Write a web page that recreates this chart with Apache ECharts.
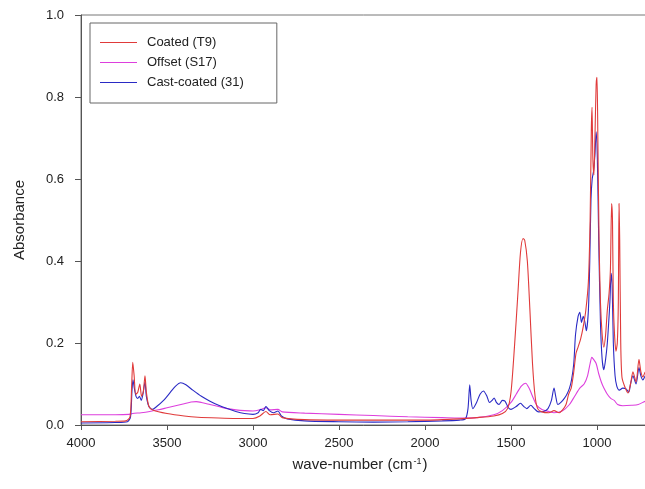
<!DOCTYPE html>
<html>
<head>
<meta charset="utf-8">
<script src="https://cdn.jsdelivr.net/npm/echarts@6/dist/echarts.min.js"></script>
<style>
html,body{margin:0;padding:0;background:#fff;}
#chart{width:645px;height:489px;}
</style>
</head>
<body>
<div id="chart"></div>
<script>
// ---- data (wave-number cm^-1, absorbance) ----
var seriesNames = ['Coated (T9)', 'Offset (S17)', 'Cast-coated (31)'];
var xTicks = [4000, 3500, 3000, 2500, 2000, 1500, 1000];
var yTicks = [0.0, 0.2, 0.4, 0.6, 0.8, 1.0];

var coatedT9 = [
[4000,0.008],[3800,0.009],[3740,0.010],[3715,0.020],[3706,0.090],[3699,0.153],[3691,0.120],[3682,0.075],[3670,0.080],[3658,0.100],
[3648,0.070],[3638,0.080],[3628,0.120],[3620,0.080],[3605,0.045],[3580,0.036],[3500,0.028],[3400,0.022],[3320,0.019],[3200,0.017],
[3100,0.016],[3000,0.016],[2960,0.022],[2925,0.033],[2900,0.025],[2855,0.027],[2830,0.018],[2700,0.013],[2500,0.012],[2200,0.012],
[2000,0.012],[1800,0.015],[1700,0.018],[1600,0.022],[1550,0.028],[1520,0.040],[1500,0.080],[1480,0.190],[1460,0.320],[1445,0.420],
[1430,0.455],[1420,0.450],[1405,0.400],[1390,0.280],[1375,0.150],[1360,0.070],[1345,0.040],[1320,0.032],[1280,0.030],[1250,0.035],
[1220,0.030],[1200,0.037],[1180,0.050],[1165,0.075],[1150,0.090],[1135,0.130],[1122,0.175],[1110,0.190],[1095,0.210],[1080,0.240],
[1065,0.280],[1050,0.350],[1040,0.500],[1033,0.720],[1029,0.775],[1024,0.650],[1018,0.610],[1012,0.700],[1005,0.830],[1000,0.848],
[995,0.700],[988,0.450],[980,0.300],[970,0.220],[960,0.190],[950,0.220],[940,0.280],[930,0.320],[922,0.380],[915,0.540],
[910,0.500],[905,0.300],[898,0.220],[890,0.180],[882,0.200],[876,0.300],[872,0.540],[868,0.450],[862,0.200],[855,0.117],
[840,0.095],[820,0.078],[805,0.100],[791,0.130],[773,0.105],[756,0.160],[745,0.130],[733,0.117],[718,0.130],[700,0.120]
];

var offsetS17 = [
[4000,0.025],[3800,0.025],[3720,0.026],[3700,0.028],[3650,0.030],[3600,0.033],[3550,0.037],[3500,0.042],[3450,0.047],[3400,0.052],
[3360,0.056],[3330,0.057],[3300,0.055],[3250,0.050],[3200,0.045],[3150,0.040],[3100,0.037],[3050,0.035],[3000,0.034],[2960,0.037],
[2925,0.042],[2900,0.037],[2855,0.038],[2830,0.032],[2700,0.029],[2500,0.026],[2300,0.023],[2100,0.020],[1900,0.018],[1800,0.017],
[1700,0.018],[1600,0.025],[1550,0.035],[1500,0.055],[1470,0.075],[1440,0.095],[1415,0.102],[1395,0.090],[1370,0.065],[1350,0.048],
[1320,0.038],[1280,0.033],[1250,0.030],[1200,0.035],[1160,0.050],[1130,0.070],[1100,0.090],[1075,0.100],[1055,0.120],[1040,0.150],
[1030,0.165],[1020,0.160],[1005,0.150],[990,0.125],[975,0.105],[960,0.090],[940,0.075],[920,0.065],[900,0.060],[880,0.050],
[850,0.047],[800,0.048],[760,0.050],[720,0.058],[700,0.060]
];

var castCoated31 = [
[4000,0.005],[3800,0.006],[3730,0.008],[3712,0.020],[3704,0.080],[3698,0.110],[3690,0.090],[3680,0.070],[3670,0.065],[3660,0.070],
[3650,0.060],[3640,0.075],[3628,0.105],[3620,0.070],[3605,0.045],[3585,0.038],[3560,0.045],[3520,0.060],[3480,0.080],[3450,0.095],
[3420,0.103],[3390,0.098],[3350,0.085],[3300,0.070],[3250,0.058],[3200,0.048],[3150,0.040],[3100,0.033],[3050,0.028],[3000,0.026],
[2970,0.030],[2955,0.038],[2940,0.035],[2925,0.045],[2905,0.035],[2880,0.030],[2855,0.034],[2835,0.022],[2800,0.015],[2700,0.010],
[2500,0.008],[2300,0.007],[2100,0.008],[1900,0.010],[1800,0.012],[1765,0.015],[1750,0.040],[1740,0.098],[1732,0.060],[1722,0.040],
[1700,0.055],[1680,0.075],[1660,0.083],[1640,0.070],[1625,0.055],[1610,0.060],[1598,0.066],[1585,0.055],[1570,0.050],[1550,0.060],
[1535,0.058],[1515,0.042],[1500,0.038],[1470,0.045],[1445,0.053],[1425,0.045],[1408,0.040],[1385,0.048],[1365,0.040],[1340,0.032],
[1310,0.033],[1285,0.040],[1265,0.060],[1250,0.090],[1240,0.070],[1228,0.050],[1210,0.055],[1190,0.065],[1175,0.075],[1160,0.090],
[1148,0.110],[1135,0.150],[1125,0.220],[1110,0.265],[1100,0.275],[1090,0.250],[1080,0.265],[1070,0.250],[1062,0.230],[1050,0.280],
[1042,0.400],[1035,0.550],[1028,0.600],[1020,0.620],[1012,0.660],[1005,0.715],[998,0.650],[990,0.450],[980,0.250],[970,0.160],
[960,0.135],[950,0.160],[940,0.200],[932,0.250],[925,0.300],[918,0.370],[912,0.340],[905,0.200],[895,0.120],[885,0.095],
[870,0.085],[850,0.090],[831,0.088],[815,0.080],[805,0.100],[791,0.120],[773,0.100],[756,0.140],[745,0.120],[733,0.110],
[718,0.120],[700,0.110]
];

var colors = ['#e03a3a', '#dd3fdd', '#2a2ac4'];

var chart = echarts.init(document.getElementById('chart'), null, {renderer: 'canvas'});
var font = '"Liberation Sans", Arial, sans-serif';
var dataSets = [coatedT9, offsetS17, castCoated31];
var lineIcon = 'path://M0,0 L37,0 L37,1.2 L0,1.2 Z';

chart.setOption({
  animation: false,
  backgroundColor: '#fff',
  grid: {
    left: 81, top: 15, bottom: 64, right: -38,
    outerBoundsMode: 'none',
    containLabel: false,
    show: true, borderColor: '#777', borderWidth: 1, backgroundColor: 'transparent'
  },
  legend: {
    orient: 'vertical',
    left: 90, top: 23,
    padding: [13, 33, 14, 10],
    borderColor: '#666', borderWidth: 1,
    itemWidth: 37, itemHeight: 14, itemGap: 7,
    textStyle: {fontFamily: font, fontSize: 13, color: '#222', padding: [0, 0, 0, 5]},
    data: seriesNames.map(function (n) { return {name: n, icon: lineIcon}; })
  },
  xAxis: {
    type: 'value',
    inverse: true,
    min: 500, max: 4000, interval: 500,
    name: '{a|wave-number (cm}{s|-1}{a|)}',
    nameLocation: 'middle',
    nameGap: 32,
    nameTextStyle: {
      fontFamily: font, fontSize: 15, color: '#222',
      padding: [0, 44, 0, 0],
      rich: {
        a: {fontFamily: font, fontSize: 15, color: '#222'},
        s: {fontFamily: font, fontSize: 9, color: '#222', verticalAlign: 'top', padding: [0, 1, 0, 1]}
      }
    },
    axisLine: {show: true, lineStyle: {color: '#555'}},
    axisTick: {show: true, length: 5, lineStyle: {color: '#555'}},
    axisLabel: {
      fontFamily: font, fontSize: 13, color: '#222', margin: 12,
      formatter: function (v) { return xTicks.indexOf(v) >= 0 ? String(v) : ''; }
    },
    splitLine: {show: false}
  },
  yAxis: {
    type: 'value',
    min: 0, max: 1, interval: 0.2,
    name: 'Absorbance',
    nameLocation: 'middle',
    nameGap: 54,
    nameTextStyle: {fontFamily: font, fontSize: 15, color: '#222'},
    axisLine: {show: true, lineStyle: {color: '#555'}},
    axisTick: {show: true, length: 6, lineStyle: {color: '#555'}},
    axisLabel: {
      fontFamily: font, fontSize: 13, color: '#222', margin: 17,
      formatter: function (v) { return v.toFixed(1); }
    },
    splitLine: {show: false}
  },
  series: seriesNames.map(function (n, i) {
    return {
      name: n,
      type: 'line',
      data: dataSets[i],
      showSymbol: false,
      symbol: 'none',
      smooth: 0.25,
      clip: true,
      lineStyle: {width: 1.1, color: colors[i]},
      itemStyle: {color: colors[i]},
      z: i === 2 ? 3 : (i === 0 ? 4 : 2)
    };
  })
});
</script>
</body>
</html>
